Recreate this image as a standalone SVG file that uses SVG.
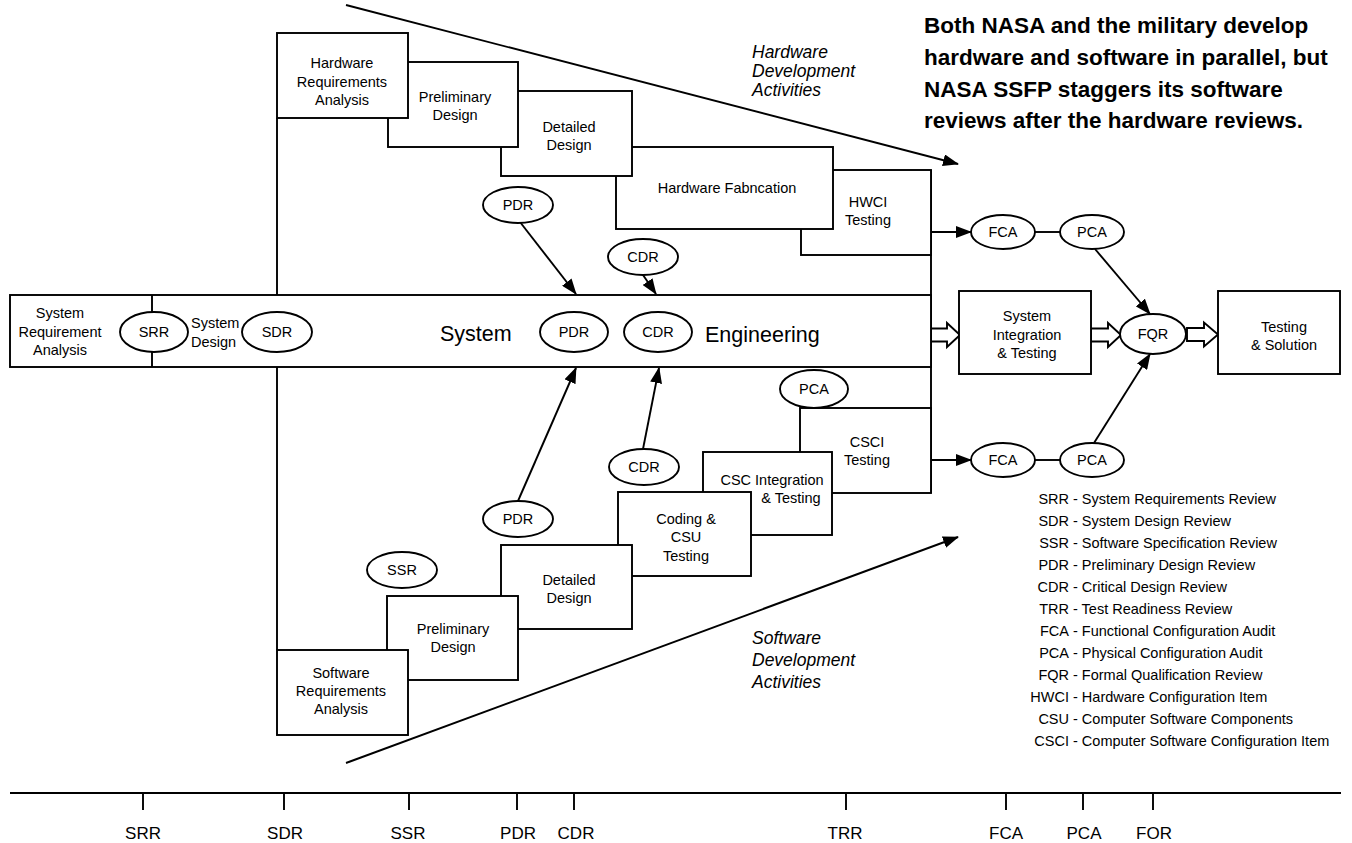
<svg xmlns="http://www.w3.org/2000/svg" width="1352" height="843" viewBox="0 0 1352 843">
  <style>
    text { font-family: "Liberation Sans", Arial, Helvetica, sans-serif; fill: #000; }
    .lbl { font-size: 14.5px; text-anchor: middle; }
    .big { font-size: 21.5px; }
    .ital { font-size: 17.5px; font-style: italic; }
    .note { font-size: 22.5px; font-weight: bold; }
    .leg { font-size: 14.5px; }
    .abbr { font-size: 14.5px; text-anchor: end; }
    .tick { font-size: 17px; text-anchor: middle; }
    .box { fill: #fff; stroke: #000; stroke-width: 1.9; }
    .ell { fill: #fff; stroke: #000; stroke-width: 1.9; }
    .ln { fill: none; stroke: #000; stroke-width: 1.9; }
    .arr { fill: none; stroke: #000; stroke-width: 1.9; marker-end: url(#ah); }
    .hollow { fill: #fff; stroke: #000; stroke-width: 1.9; stroke-linejoin: miter; }
  </style>
  <defs>
    <marker id="ah" viewBox="0 0 16 12" refX="15" refY="6" markerWidth="16" markerHeight="12" markerUnits="userSpaceOnUse" orient="auto">
      <path d="M0,0 L16,6 L0,12 z" fill="#000"/>
    </marker>
  </defs>

  <rect width="1352" height="843" fill="#fff"/>

  <!-- connectors: spine lines, review arrows, phase wedges -->
  <g id="connectors">
    <!-- wedge edges for hardware and software activities -->
    <line class="arr" x1="346" y1="5" x2="958" y2="164"/>
    <line class="arr" x1="346" y1="763" x2="958" y2="537"/>
    <!-- left spine from requirements to requirements -->
    <line class="ln" x1="277" y1="118" x2="277" y2="650"/>
    <!-- right spine collecting hardware and software branches -->
    <line class="ln" x1="931" y1="170" x2="931" y2="493"/>
    <!-- HW reviews into system engineering -->
    <line class="arr" x1="520" y1="222" x2="576" y2="294"/>
    <line class="arr" x1="643" y1="275" x2="656" y2="294"/>
    <!-- SW reviews into system engineering -->
    <line class="arr" x1="518" y1="501" x2="576" y2="368"/>
    <line class="arr" x1="643" y1="449" x2="659" y2="368"/>
    <!-- audits -->
    <line class="arr" x1="931" y1="232" x2="971" y2="232"/>
    <line class="ln" x1="1035" y1="232" x2="1060" y2="232"/>
    <line class="arr" x1="931" y1="460" x2="971" y2="460"/>
    <line class="ln" x1="1035" y1="460" x2="1060" y2="460"/>
    <line class="arr" x1="1095" y1="249" x2="1150" y2="314"/>
    <line class="arr" x1="1094" y1="443" x2="1150" y2="354"/>
    <!-- hollow flow arrows -->
    <polygon class="hollow" points="931,328.5 947,328.5 947,323 960,335 947,347 947,341.5 931,341.5"/>
    <polygon class="hollow" points="1091,328.5 1108,328.5 1108,323 1121,335 1108,347 1108,341.5 1091,341.5"/>
    <polygon class="hollow" points="1187,328 1204,328 1204,322.5 1218,334.5 1204,346.5 1204,341 1187,341"/>
  </g>

  <!-- hardware development boxes (later phases drawn first) -->
  <g id="hwci-testing">
    <rect class="box" x="801" y="170" width="130" height="85"/>
    <text class="lbl" x="868" y="207">HWCI</text>
    <text class="lbl" x="868" y="225">Testing</text>
  </g>
  <g id="hw-fabrication">
    <rect class="box" x="616" y="147" width="217" height="82"/>
    <text class="lbl" x="727" y="193">Hardware Fabncation</text>
  </g>
  <g id="hw-detailed-design">
    <rect class="box" x="501" y="91" width="131" height="85"/>
    <text class="lbl" x="569" y="132">Detailed</text>
    <text class="lbl" x="569" y="150">Design</text>
  </g>
  <g id="hw-preliminary-design">
    <rect class="box" x="388" y="62" width="130" height="85"/>
    <text class="lbl" x="455" y="102">Preliminary</text>
    <text class="lbl" x="455" y="120">Design</text>
  </g>
  <g id="hw-requirements">
    <rect class="box" x="277" y="33" width="131" height="85"/>
    <text class="lbl" x="342" y="68">Hardware</text>
    <text class="lbl" x="342" y="87">Requirements</text>
    <text class="lbl" x="342" y="105">Analysis</text>
  </g>

  <!-- software development boxes (later phases drawn first) -->
  <g id="csci-testing">
    <rect class="box" x="800" y="408" width="131" height="85"/>
    <text class="lbl" x="867" y="447">CSCI</text>
    <text class="lbl" x="867" y="465">Testing</text>
  </g>
  <g id="csc-integration">
    <rect class="box" x="703" y="452" width="129" height="83"/>
    <text class="lbl" x="772" y="485">CSC Integration</text>
    <text class="lbl" x="791" y="503">&amp; Testing</text>
  </g>
  <g id="coding-csu">
    <rect class="box" x="618" y="492" width="133" height="84"/>
    <text class="lbl" x="686" y="524">Coding &amp;</text>
    <text class="lbl" x="686" y="542">CSU</text>
    <text class="lbl" x="686" y="561">Testing</text>
  </g>
  <g id="sw-detailed-design">
    <rect class="box" x="501" y="545" width="131" height="84"/>
    <text class="lbl" x="569" y="585">Detailed</text>
    <text class="lbl" x="569" y="603">Design</text>
  </g>
  <g id="sw-preliminary-design">
    <rect class="box" x="387" y="596" width="131" height="84"/>
    <text class="lbl" x="453" y="634">Preliminary</text>
    <text class="lbl" x="453" y="652">Design</text>
  </g>
  <g id="sw-requirements">
    <rect class="box" x="277" y="650" width="131" height="85"/>
    <text class="lbl" x="341" y="678">Software</text>
    <text class="lbl" x="341" y="696">Requirements</text>
    <text class="lbl" x="341" y="714">Analysis</text>
  </g>

  <!-- system engineering bar -->
  <g id="system-engineering">
    <rect class="box" x="10" y="295" width="921" height="72"/>
    <line class="ln" x1="152" y1="295" x2="152" y2="367"/>
    <text class="lbl" x="60" y="318">System</text>
    <text class="lbl" x="60" y="337">Requirement</text>
    <text class="lbl" x="60" y="355">Analysis</text>
    <text class="lbl" x="191" y="328" style="text-anchor:start">System</text>
    <text class="lbl" x="191" y="347" style="text-anchor:start">Design</text>
    <text class="big" x="440" y="341">System</text>
    <text class="big" x="705" y="342">Engineering</text>
  </g>
  <g id="srr"><ellipse class="ell" cx="154" cy="332" rx="34" ry="20"/><text class="lbl" x="154" y="337">SRR</text></g>
  <g id="sdr"><ellipse class="ell" cx="277" cy="332" rx="35" ry="20"/><text class="lbl" x="277" y="337">SDR</text></g>
  <g id="pdr-sys"><ellipse class="ell" cx="574" cy="332" rx="34" ry="20"/><text class="lbl" x="574" y="337">PDR</text></g>
  <g id="cdr-sys"><ellipse class="ell" cx="658" cy="332" rx="34" ry="20"/><text class="lbl" x="658" y="337">CDR</text></g>

  <!-- review bubbles -->
  <g id="pdr-hw"><ellipse class="ell" cx="518" cy="205" rx="35" ry="18"/><text class="lbl" x="518" y="210">PDR</text></g>
  <g id="cdr-hw"><ellipse class="ell" cx="643" cy="257" rx="35" ry="18"/><text class="lbl" x="643" y="262">CDR</text></g>
  <g id="pdr-sw"><ellipse class="ell" cx="518" cy="519" rx="35" ry="18"/><text class="lbl" x="518" y="524">PDR</text></g>
  <g id="cdr-sw"><ellipse class="ell" cx="644" cy="467" rx="35" ry="18"/><text class="lbl" x="644" y="472">CDR</text></g>
  <g id="ssr"><ellipse class="ell" cx="402" cy="570" rx="35" ry="18"/><text class="lbl" x="402" y="575">SSR</text></g>
  <g id="pca-csci"><ellipse class="ell" cx="814" cy="389" rx="34" ry="19"/><text class="lbl" x="814" y="394">PCA</text></g>

  <!-- audits and qualification -->
  <g id="fca-hw"><ellipse class="ell" cx="1003" cy="232" rx="32" ry="17"/><text class="lbl" x="1003" y="237">FCA</text></g>
  <g id="pca-hw"><ellipse class="ell" cx="1092" cy="232" rx="32" ry="17"/><text class="lbl" x="1092" y="237">PCA</text></g>
  <g id="fca-sw"><ellipse class="ell" cx="1003" cy="460" rx="32" ry="17"/><text class="lbl" x="1003" y="465">FCA</text></g>
  <g id="pca-sw"><ellipse class="ell" cx="1092" cy="460" rx="32" ry="17"/><text class="lbl" x="1092" y="465">PCA</text></g>
  <g id="fqr"><ellipse class="ell" cx="1153" cy="334" rx="33" ry="20"/><text class="lbl" x="1153" y="339">FQR</text></g>

  <g id="system-integration">
    <rect class="box" x="959" y="291" width="132" height="83"/>
    <text class="lbl" x="1027" y="321">System</text>
    <text class="lbl" x="1027" y="340">Integration</text>
    <text class="lbl" x="1027" y="358">&amp; Testing</text>
  </g>
  <g id="testing-solution">
    <rect class="box" x="1218" y="291" width="122" height="83"/>
    <text class="lbl" x="1284" y="332">Testing</text>
    <text class="lbl" x="1284" y="350">&amp; Solution</text>
  </g>

  <!-- wedge captions -->
  <g id="hw-caption">
    <text class="ital" x="752" y="58">Hardware</text>
    <text class="ital" x="752" y="77">Development</text>
    <text class="ital" x="752" y="96">Activities</text>
  </g>
  <g id="sw-caption">
    <text class="ital" x="752" y="644">Software</text>
    <text class="ital" x="752" y="666">Development</text>
    <text class="ital" x="752" y="688">Activities</text>
  </g>

  <!-- headline note -->
  <g id="note">
    <text class="note" x="924" y="33">Both NASA and the military develop</text>
    <text class="note" x="924" y="65">hardware and software in parallel, but</text>
    <text class="note" x="924" y="97">NASA SSFP staggers its software</text>
    <text class="note" x="924" y="128">reviews after the hardware reviews.</text>
  </g>

  <!-- abbreviation legend -->
  <g id="legend">
    <text class="abbr" x="1069" y="504">SRR</text><text class="leg" x="1073" y="504">- System Requirements Review</text>
    <text class="abbr" x="1069" y="526">SDR</text><text class="leg" x="1073" y="526">- System Design Review</text>
    <text class="abbr" x="1069" y="548">SSR</text><text class="leg" x="1073" y="548">- Software Specification Review</text>
    <text class="abbr" x="1069" y="570">PDR</text><text class="leg" x="1073" y="570">- Preliminary Design Review</text>
    <text class="abbr" x="1069" y="592">CDR</text><text class="leg" x="1073" y="592">- Critical Design Review</text>
    <text class="abbr" x="1069" y="614">TRR</text><text class="leg" x="1073" y="614">- Test Readiness Review</text>
    <text class="abbr" x="1069" y="636">FCA</text><text class="leg" x="1073" y="636">- Functional Configuration Audit</text>
    <text class="abbr" x="1069" y="658">PCA</text><text class="leg" x="1073" y="658">- Physical Configuration Audit</text>
    <text class="abbr" x="1069" y="680">FQR</text><text class="leg" x="1073" y="680">- Formal Qualification Review</text>
    <text class="abbr" x="1069" y="702">HWCI</text><text class="leg" x="1073" y="702">- Hardware Configuration Item</text>
    <text class="abbr" x="1069" y="724">CSU</text><text class="leg" x="1073" y="724">- Computer Software Components</text>
    <text class="abbr" x="1069" y="746">CSCI</text><text class="leg" x="1073" y="746">- Computer Software Configuration Item</text>
  </g>

  <!-- review timeline -->
  <g id="timeline">
    <line class="ln" x1="10" y1="793" x2="1341" y2="793"/>
    <line class="ln" x1="143" y1="793" x2="143" y2="810"/>
    <line class="ln" x1="284" y1="793" x2="284" y2="810"/>
    <line class="ln" x1="409" y1="793" x2="409" y2="810"/>
    <line class="ln" x1="517" y1="793" x2="517" y2="810"/>
    <line class="ln" x1="574" y1="793" x2="574" y2="810"/>
    <line class="ln" x1="846" y1="793" x2="846" y2="810"/>
    <line class="ln" x1="1006" y1="793" x2="1006" y2="810"/>
    <line class="ln" x1="1083" y1="793" x2="1083" y2="810"/>
    <line class="ln" x1="1153" y1="793" x2="1153" y2="810"/>
    <text class="tick" x="143" y="839">SRR</text>
    <text class="tick" x="285" y="839">SDR</text>
    <text class="tick" x="408" y="839">SSR</text>
    <text class="tick" x="518" y="839">PDR</text>
    <text class="tick" x="576" y="839">CDR</text>
    <text class="tick" x="845" y="839">TRR</text>
    <text class="tick" x="1006" y="839">FCA</text>
    <text class="tick" x="1084" y="839">PCA</text>
    <text class="tick" x="1154" y="839">FOR</text>
  </g>
</svg>
